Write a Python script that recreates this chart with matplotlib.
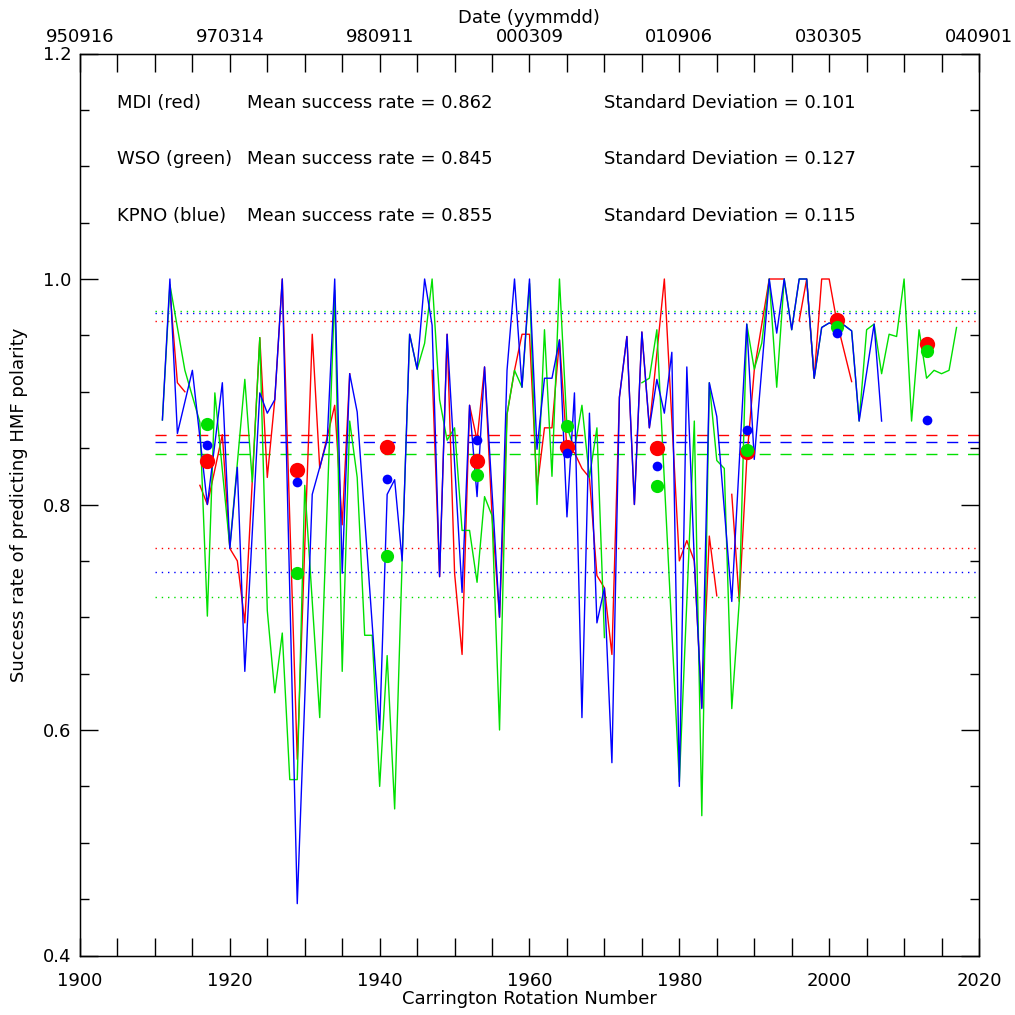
import matplotlib
matplotlib.use('Agg')
import matplotlib.pyplot as plt
import numpy as np
from matplotlib.ticker import MultipleLocator

nan = np.nan

# MDI (red) success rate per Carrington rotation, nan = data gap
mdi_cr = [1912, 1913, 1914, 1915, 1916, 1917, 1919, 1920, 1921, 1922, 1924, 1925, 1926, 1927,
          1929, 1931, 1932, 1934, 1935, 1936, 1940, 1947, 1948, 1949, 1950, 1951, 1952, 1953,
          1954, 1955, 1956, 1957, 1958, 1959, 1960, 1961, 1962, 1963, 1964, 1965, 1966, 1967,
          1968, 1969, 1970, 1971, 1972, 1973, 1974, 1975, 1976, 1978, 1980, 1981, 1982, 1983,
          1984, 1985, 1986, 1987, 1988, 1989, 1990, 1992, 1993, 1994, 1995, 1996, 1997, 1998,
          1999, 2000, 2001, 2003]
mdi_rate = [0.990, 0.908, 0.900, nan, 0.817, 0.800, 0.862, 0.761, 0.750, 0.695, 0.948, 0.824, 0.893, 1.000,
            0.574, 0.951, 0.832, 0.888, 0.782, 0.916, nan, 0.919, 0.736, 0.951, 0.739, 0.667, 0.888, 0.857,
            0.922, 0.790, 0.700, 0.880, 0.919, 0.951, 0.951, 0.814, 0.868, 0.868, 0.946, 0.849, 0.846, 0.832,
            0.824, 0.737, 0.726, 0.667, 0.895, 0.949, 0.800, 0.953, 0.868, 1.000, 0.750, 0.768, 0.750, 0.620,
            0.772, 0.719, nan, 0.809, 0.714, 0.840, 0.919, 1.000, 1.000, 1.000, nan, 0.963, 1.000, 0.912,
            1.000, 1.000, 0.963, 0.909]

# WSO (green)
wso_cr = [1911, 1912, 1914, 1916, 1917, 1918, 1920, 1922, 1923, 1924, 1925, 1926, 1927, 1928, 1929,
          1930, 1932, 1934, 1935, 1936, 1937, 1938, 1939, 1940, 1941, 1942, 1943, 1944, 1945, 1946,
          1947, 1948, 1949, 1950, 1951, 1952, 1953, 1954, 1955, 1956, 1957, 1958, 1959, 1960, 1961,
          1962, 1963, 1964, 1965, 1966, 1967, 1968, 1969, 1970, 1971, 1975, 1976, 1977, 1980, 1982,
          1983, 1984, 1985, 1986, 1987, 1988, 1989, 1990, 1991, 1992, 1993, 1994, 1995, 1996, 1997,
          1998, 1999, 2000, 2001, 2002, 2003, 2004, 2005, 2006, 2007, 2008, 2009, 2010, 2011, 2012,
          2013, 2014, 2015, 2016, 2017]
wso_rate = [0.875, 0.995, 0.919, 0.873, 0.701, 0.899, 0.762, 0.911, 0.820, 0.948, 0.706, 0.633, 0.686, 0.556, 0.556,
            0.817, 0.611, 0.990, 0.652, 0.874, 0.824, 0.684, 0.684, 0.550, 0.666, 0.530, 0.750, 0.951, 0.920, 0.943,
            1.000, 0.893, 0.857, 0.868, 0.777, 0.777, 0.731, 0.807, 0.790, 0.600, 0.880, 0.919, 0.904, 0.996, 0.800,
            0.955, 0.825, 1.000, 0.869, 0.849, 0.888, 0.824, 0.868, 0.682, nan, 0.908, 0.912, 0.955, 0.554, 0.874,
            0.524, 0.908, 0.839, 0.832, 0.619, 0.714, 0.960, 0.920, 0.943, 1.000, 0.904, 1.000, 0.955, 1.000, 1.000,
            0.912, 0.957, 0.961, 0.959, 0.959, 0.954, 0.874, 0.955, 0.960, 0.916, 0.951, 0.949, 1.000, 0.874, 0.955,
            0.912, 0.919, 0.916, 0.919, 0.957]

# KPNO (blue)
kpno_cr = [1911, 1912, 1913, 1915, 1917, 1919, 1920, 1921, 1922, 1924, 1925, 1926, 1927, 1929, 1931,
           1933, 1934, 1935, 1936, 1937, 1940, 1941, 1942, 1943, 1944, 1945, 1946, 1947, 1948, 1949,
           1951, 1952, 1953, 1954, 1956, 1957, 1958, 1959, 1960, 1961, 1962, 1963, 1964, 1965, 1966,
           1967, 1968, 1969, 1970, 1971, 1972, 1973, 1974, 1975, 1976, 1977, 1978, 1979, 1980, 1981,
           1982, 1983, 1984, 1985, 1987, 1989, 1990, 1992, 1993, 1994, 1995, 1996, 1997, 1998, 1999,
           2000, 2001, 2002, 2003, 2004, 2006, 2007]
kpno_rate = [0.875, 1.000, 0.863, 0.919, 0.800, 0.908, 0.761, 0.833, 0.652, 0.899, 0.881, 0.893, 1.000, 0.446, 0.809,
             0.857, 1.000, 0.739, 0.916, 0.882, 0.600, 0.809, 0.822, 0.750, 0.951, 0.920, 1.000, 0.959, 0.736, 0.951,
             0.722, 0.888, 0.807, 0.922, 0.700, 0.919, 1.000, 0.904, 1.000, 0.849, 0.912, 0.912, 0.946, 0.789, 0.899,
             0.611, 0.881, 0.695, 0.726, 0.571, 0.895, 0.949, 0.800, 0.953, 0.868, 0.911, 0.881, 0.935, 0.550, 0.922,
             0.750, 0.619, 0.908, 0.878, 0.714, 0.960, 0.840, 1.000, 0.952, 1.000, 0.955, 1.000, 1.000, 0.912, 0.957,
             0.961, 0.959, 0.959, 0.954, 0.874, 0.960, 0.874]

# yearly means (big dots)
year_cr = [1917, 1929, 1941, 1953, 1965, 1977, 1989, 2001, 2013]
mdi_year = [0.839, 0.831, 0.851, 0.839, 0.851, 0.850, 0.847, 0.964, 0.942]
wso_year = [0.871, 0.739, 0.754, 0.826, 0.870, 0.816, 0.848, 0.957, 0.936]
kpno_year = [0.853, 0.820, 0.823, 0.857, 0.846, 0.834, 0.866, 0.952, 0.875]

names = ['MDI (red)', 'WSO (green)', 'KPNO (blue)']
means = [0.862, 0.845, 0.855]
stds = [0.101, 0.127, 0.115]
colors = ['#ff0000', '#00e000', '#0000ff']

date_cr = [1900, 1920, 1940, 1960, 1980, 2000, 2020]
date_labels = ['950916', '970314', '980911', '000309', '010906', '030305', '040901']

FS = 13
plt.rcParams['font.family'] = ['DejaVu Sans']

W = 1015
fig = plt.figure(figsize=(10.15, 10.15), dpi=100)
ax = fig.add_axes([80 / W, (W - 955.5) / W, (979 - 80) / W, (955.5 - 53.5) / W])

# horizontal reference lines: mean (dashed), mean +/- std (dotted)
for m, s, c in zip(means, stds, colors):
    ax.hlines(m, 1910, 2020, colors=c, lw=1.0, linestyles=(0, (8, 7)))
    ax.hlines([m + s, m - s], 1910, 2020, colors=c, lw=1.0, linestyles=(0, (1, 3.5)))

ax.plot(mdi_cr, mdi_rate, color=colors[0], lw=1.0)
ax.plot(wso_cr, wso_rate, color=colors[1], lw=1.0)
ax.plot(kpno_cr, kpno_rate, color=colors[2], lw=1.0)

ax.plot(year_cr, mdi_year, 'o', color=colors[0], ms=11, mew=0)
ax.plot(year_cr, wso_year, 'o', color=colors[1], ms=9.5, mew=0)
ax.plot(year_cr, kpno_year, 'o', color=colors[2], ms=7, mew=0)

ax.set_xlim(1900, 2020)
ax.set_ylim(0.4, 1.2)
ax.xaxis.set_major_locator(MultipleLocator(20))
ax.xaxis.set_minor_locator(MultipleLocator(5))
ax.yaxis.set_major_locator(MultipleLocator(0.2))
ax.yaxis.set_minor_locator(MultipleLocator(0.05))
ax.set_yticklabels([f'{v:.1f}' for v in ax.get_yticks()])
ax.tick_params(axis='x', which='both', direction='in', length=13, width=1, top=False,
               labelsize=FS, pad=12)
ax.tick_params(axis='y', which='major', direction='in', length=13, width=1, right=True,
               labelsize=FS, pad=6)
ax.tick_params(axis='y', which='minor', direction='in', length=6.5, width=1, right=True)
for sp in ax.spines.values():
    sp.set_linewidth(1.0)

ax2 = ax.twiny()
ax2.set_xlim(1900, 2020)
ax2.set_xticks(date_cr)
ax2.set_xticklabels(date_labels)
ax2.xaxis.set_minor_locator(MultipleLocator(5))
ax2.tick_params(axis='x', which='both', direction='in', length=13, width=1, labelsize=FS, pad=5.5)

fig.text(529 / W, 1 - 18 / W, 'Date (yymmdd)', ha='center', va='center', fontsize=FS)
fig.text(529 / W, 1 - 999 / W, 'Carrington Rotation Number', ha='center', va='center', fontsize=FS)
fig.text(19 / W, 1 - 505 / W, 'Success rate of predicting HMF polarity', ha='center', va='center',
         rotation=90, fontsize=FS)

for i, (n, m, s) in enumerate(zip(names, means, stds)):
    y = 1 - (103 + i * 56.5) / W
    fig.text(117 / W, y, n, ha='left', va='center', fontsize=FS)
    fig.text(247 / W, y, f'Mean success rate = {m:.3f}', ha='left', va='center', fontsize=FS)
    fig.text(604 / W, y, f'Standard Deviation = {s:.3f}', ha='left', va='center', fontsize=FS)

fig.savefig('out.png', dpi=100, facecolor='white')
